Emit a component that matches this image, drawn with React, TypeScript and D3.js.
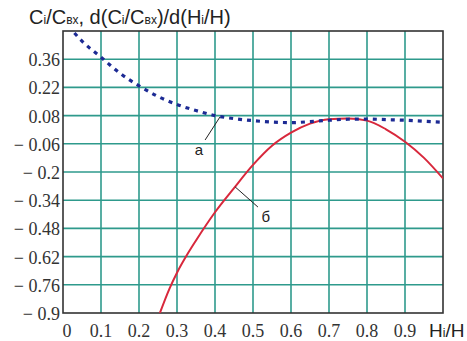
import React from "react";
import * as d3 from "d3";

// x grid / tick values
const xTicks = [0, 0.1, 0.2, 0.3, 0.4, 0.5, 0.6, 0.7, 0.8, 0.9];
const yTicks = [0.36, 0.22, 0.08, -0.06, -0.2, -0.34, -0.48, -0.62, -0.76, -0.9];
const yTickLabels = ["0.36", "0.22", "0.08", "− 0.06", "− 0.2", "− 0.34", "− 0.48", "− 0.62", "− 0.76", "− 0.9"];

// curve а: Ci/Cвх (blue, dotted)
const aX = [0.03, 0.05, 0.1, 0.15, 0.2, 0.25, 0.3, 0.35, 0.4, 0.45, 0.5, 0.55, 0.6, 0.65, 0.7, 0.75, 0.8, 0.85, 0.9, 0.95, 1.0];
const aY = [0.49, 0.45, 0.37, 0.29, 0.228, 0.175, 0.135, 0.105, 0.08, 0.065, 0.055, 0.048, 0.045, 0.05, 0.057, 0.062, 0.063, 0.06, 0.057, 0.052, 0.047];

// curve б: derivative (red)
const bX = [0.255, 0.28, 0.3, 0.33, 0.35, 0.4, 0.45, 0.5, 0.55, 0.6, 0.65, 0.7, 0.75, 0.8, 0.85, 0.9, 0.95, 1.0];
const bY = [-0.9, -0.78, -0.7, -0.6, -0.54, -0.4, -0.28, -0.165, -0.07, -0.005, 0.04, 0.062, 0.065, 0.055, 0.012, -0.05, -0.13, -0.232];

const width = 467;
const height = 341;
const margin = { top: 31, right: 24, bottom: 28, left: 63 };

export default function App() {
  const x = d3.scaleLinear().domain([0, 1]).range([margin.left, width - margin.right]);
  const y = d3.scaleLinear().domain([-0.9, 0.5]).range([height - margin.bottom, margin.top]);

  const line = d3
    .line<[number, number]>()
    .x((d) => x(d[0]))
    .y((d) => y(d[1]))
    .curve(d3.curveMonotoneX);

  const aPath = line(aX.map((v, i) => [v, aY[i]]) as [number, number][]) || "";
  const bPath = line(bX.map((v, i) => [v, bY[i]]) as [number, number][]) || "";

  const grid = "#2e9a8c";
  const serif = "'Liberation Serif', 'Times New Roman', serif";
  const sans = "'Liberation Sans', Arial, sans-serif";

  return (
    <svg
      width={width}
      height={height}
      style={{ position: "absolute", left: 0, top: 0, background: "#fff" }}
    >
      <defs>
        <clipPath id="plot">
          <rect x={x(0)} y={y(0.5)} width={x(1) - x(0)} height={y(-0.9) - y(0.5)} />
        </clipPath>
      </defs>

      {/* grid */}
      {xTicks.slice(1).map((t) => (
        <line key={"gx" + t} x1={x(t)} x2={x(t)} y1={y(0.5)} y2={y(-0.9)} stroke={grid} strokeWidth={1.6} />
      ))}
      {yTicks.slice(0, -1).map((t) => (
        <line key={"gy" + t} x1={x(0)} x2={x(1)} y1={y(t)} y2={y(t)} stroke={grid} strokeWidth={1.6} />
      ))}

      {/* frame */}
      <rect
        x={x(0)}
        y={y(0.5)}
        width={x(1) - x(0)}
        height={y(-0.9) - y(0.5)}
        fill="none"
        stroke="#333"
        strokeWidth={1.6}
      />

      {/* curves */}
      <g clipPath="url(#plot)">
        <path d={bPath} fill="none" stroke="#d8283c" strokeWidth={2} />
        <path d={aPath} fill="none" stroke="#1c2a94" strokeWidth={3.2} strokeDasharray="4 5" />
      </g>

      {/* annotations */}
      <g fontFamily={sans} fontSize={15} fill="#222">
        <line x1={x(0.374)} y1={y(-0.041)} x2={x(0.413)} y2={y(0.073)} stroke="#222" strokeWidth={1} />
        <text x={x(0.358)} y={y(-0.118)} textAnchor="middle">
          а
        </text>
        <line x1={x(0.453)} y1={y(-0.274)} x2={x(0.513)} y2={y(-0.374)} stroke="#222" strokeWidth={1} />
        <text x={x(0.534)} y={y(-0.45)} textAnchor="middle">
          б
        </text>
      </g>

      {/* tick labels */}
      <g fontFamily={serif} fontSize={18} fill="#333">
        {yTicks.map((t, i) => (
          <text key={"ly" + t} x={x(0) - 3} y={y(t) + 7} textAnchor="end">
            {yTickLabels[i]}
          </text>
        ))}
        {xTicks.map((t) => (
          <text key={"lx" + t} x={x(t) + (t === 0 ? 4 : 0)} y={337} textAnchor="middle">
            {String(t)}
          </text>
        ))}
      </g>

      <g fontFamily={sans} fill="#222">
        <text x={x(1) - 14} y={337} fontSize={19}>
          H<tspan fontSize={12}>i</tspan>/H
        </text>
        {/* title */}
        <text x={29} y={24} fontSize={20}>
          C<tspan fontSize={12}>i</tspan>/C<tspan fontSize={12}>вх</tspan>, d(C<tspan fontSize={12}>i</tspan>/C
          <tspan fontSize={12}>вх</tspan>)/d(H<tspan fontSize={12}>i</tspan>/H)
        </text>
      </g>
    </svg>
  );
}
